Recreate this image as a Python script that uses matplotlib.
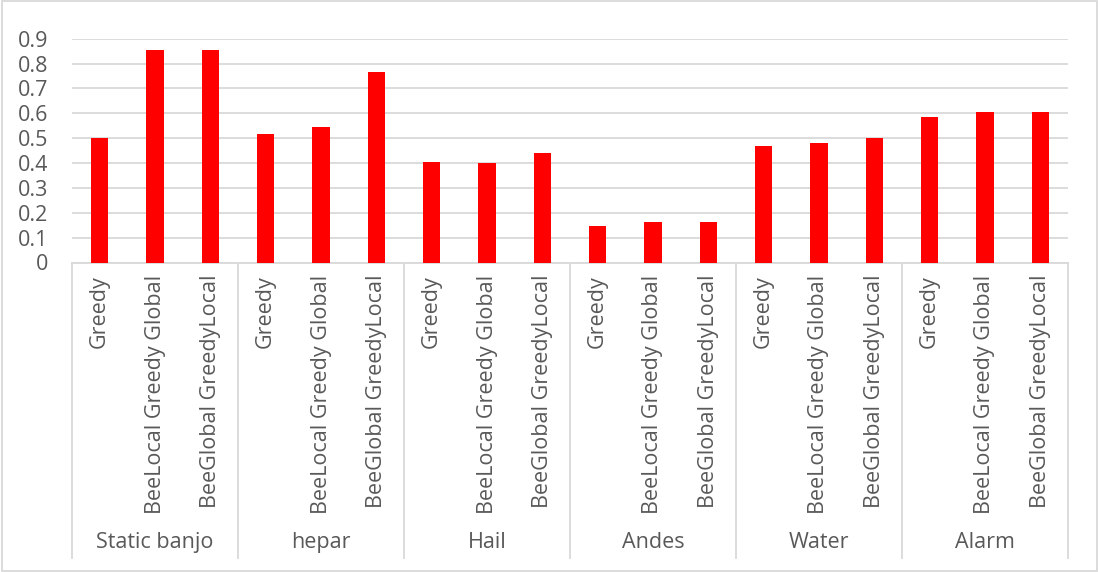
import matplotlib
matplotlib.use("Agg")
import matplotlib.pyplot as plt
from matplotlib.patches import Rectangle
import numpy as np

groups = ["Static banjo", "hepar", "Hail", "Andes", "Water", "Alarm"]
methods = ["Greedy", "BeeLocal Greedy Global", "BeeGlobal GreedyLocal"]
greedy = [0.50, 0.515, 0.405, 0.146, 0.468, 0.584]
bee_local = [0.853, 0.545, 0.401, 0.163, 0.479, 0.605]
bee_global = [0.853, 0.766, 0.439, 0.163, 0.499, 0.605]
yticks = [0, 0.1, 0.2, 0.3, 0.4, 0.5, 0.6, 0.7, 0.8, 0.9]

plt.rcParams['font.family'] = ['Open Sans', 'DejaVu Sans']
TXT = '#595959'
GRID = '#d9d9d9'
FS = 15.5

W, H = 1098, 572
fig = plt.figure(figsize=(W / 100, H / 100), dpi=100)

# plot area in pixels
x0, x1 = 72, 1068
ytop, ybot = 38.7, 262.5
ax = fig.add_axes([x0 / W, 1 - ybot / H, (x1 - x0) / W, (ybot - ytop) / H])

vals = []
labels = []
for i in range(len(groups)):
    vals += [greedy[i], bee_local[i], bee_global[i]]
    labels += methods
xs = np.arange(len(vals))

ax.bar(xs, vals, width=0.31, color='#ff0000', zorder=3)
ax.set_xlim(-0.5, len(vals) - 0.5)
ax.set_ylim(0, 0.9)
ax.set_yticks(yticks)
ax.set_yticklabels([('%g' % t) for t in yticks], fontsize=FS, color=TXT)
ax.tick_params(axis='y', length=0, pad=17)
ax.yaxis.grid(True, color=GRID, linewidth=1.3)
for s in ['top', 'right', 'left']:
    ax.spines[s].set_visible(False)
ax.spines['bottom'].set_color(GRID)
ax.spines['bottom'].set_linewidth(1.3)

ax.set_xticks(xs)
ax.set_xticklabels(labels, rotation=90, fontsize=FS, color=TXT, va='top', ha='center')
ax.tick_params(axis='x', length=0, pad=9)

# group separators and names
tr = ax.get_xaxis_transform()
sep_bot = -(558 - ybot) / (ybot - ytop)
for k in range(len(groups) + 1):
    xb = k * 3 - 0.5
    ax.plot([xb, xb], [0, sep_bot], color=GRID, lw=1.3, transform=tr, clip_on=False)
name_y = -(543 - ybot) / (ybot - ytop)
for k, g in enumerate(groups):
    ax.text(k * 3 + 1, name_y, g, transform=tr, ha='center', va='center',
            fontsize=FS, color=TXT)

# chart border
fig.patches.append(Rectangle((1.5 / W, 1 - 571 / H), (1096.5 - 1.5) / W, 570 / H,
                             transform=fig.transFigure, fill=False,
                             edgecolor=GRID, lw=1.3))

fig.savefig('out.png', dpi=100)
